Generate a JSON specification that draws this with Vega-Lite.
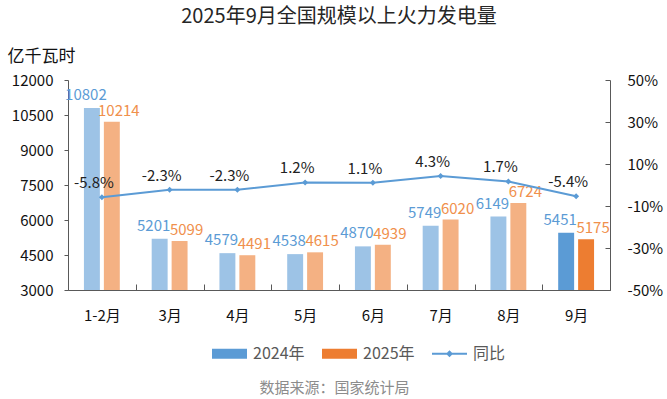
{
  "$schema": "https://vega.github.io/schema/vega-lite/v6.json",
  "autosize": {"type": "none"},
  "width": 542,
  "height": 210,
  "padding": {"left": 68, "top": 80, "right": 57, "bottom": 109},
  "background": "white",
  "config": {
    "font": "Noto Sans CJK SC",
    "view": {"stroke": null},
    "axis": {"grid": false},
    "axisY": {"labelOverlap": false},
    "locale": {
      "number": {"decimal": ".", "thousands": ",", "grouping": [3], "currency": ["", ""], "minus": "-"}
    }
  },
  "title": {
    "text": "2025年9月全国规模以上火力发电量",
    "fontSize": 20,
    "fontWeight": "normal",
    "color": "#262626",
    "anchor": "middle",
    "offset": 20
  },
  "datasets": {
    "bars": [
      {"month": "1-2月", "year": "2024年", "value": 10802},
      {"month": "1-2月", "year": "2025年", "value": 10214},
      {"month": "3月", "year": "2024年", "value": 5201},
      {"month": "3月", "year": "2025年", "value": 5099},
      {"month": "4月", "year": "2024年", "value": 4579},
      {"month": "4月", "year": "2025年", "value": 4491},
      {"month": "5月", "year": "2024年", "value": 4538},
      {"month": "5月", "year": "2025年", "value": 4615},
      {"month": "6月", "year": "2024年", "value": 4870},
      {"month": "6月", "year": "2025年", "value": 4939},
      {"month": "7月", "year": "2024年", "value": 5749},
      {"month": "7月", "year": "2025年", "value": 6020},
      {"month": "8月", "year": "2024年", "value": 6149},
      {"month": "8月", "year": "2025年", "value": 6724},
      {"month": "9月", "year": "2024年", "value": 5451},
      {"month": "9月", "year": "2025年", "value": 5175}
    ],
    "yoy": [
      {"month": "1-2月", "pct": -0.058},
      {"month": "3月", "pct": -0.023},
      {"month": "4月", "pct": -0.023},
      {"month": "5月", "pct": 0.012},
      {"month": "6月", "pct": 0.011},
      {"month": "7月", "pct": 0.043},
      {"month": "8月", "pct": 0.017},
      {"month": "9月", "pct": -0.054}
    ]
  },
  "layer": [
    {
      "data": {"name": "bars"},
      "encoding": {
        "x": {
          "field": "month",
          "type": "nominal",
          "sort": ["1-2月", "3月", "4月", "5月", "6月", "7月", "8月", "9月"],
          "scale": {"paddingInner": 0, "paddingOuter": 0},
          "axis": {
            "labelAngle": 0,
            "labelFontSize": 15,
            "labelColor": "#111111",
            "labelPadding": 24,
            "tickBand": "extent",
            "tickSize": -6,
            "tickColor": "#595959",
            "domainColor": "#595959",
            "title": "数据来源：国家统计局",
            "titleFontSize": 15,
            "titleFontWeight": "normal",
            "titleColor": "#8c8c8c",
            "titleX": 266,
            "titleY": 97,
            "titleAlign": "center",
            "titleBaseline": "middle"
          }
        },
        "xOffset": {
          "field": "year",
          "type": "nominal",
          "scale": {"paddingInner": 0.2, "paddingOuter": 0.8}
        },
        "y": {
          "field": "value",
          "type": "quantitative",
          "scale": {"domain": [3000, 12000], "zero": false, "nice": false},
          "axis": {
            "values": [3000, 4500, 6000, 7500, 9000, 10500, 12000],
            "format": "d",
            "labelOverlap": false,
            "labelFontSize": 15,
            "labelColor": "#111111",
            "labelPadding": 11,
            "tickSize": 4,
            "tickColor": "#595959",
            "domainColor": "#595959",
            "title": "亿千瓦时",
            "titleAngle": 0,
            "titleAlign": "left",
            "titleBaseline": "middle",
            "titleX": -61,
            "titleY": -24,
            "titleFontSize": 17,
            "titleFontWeight": "normal",
            "titleColor": "#111111"
          }
        }
      },
      "layer": [
        {
          "mark": {"type": "bar"},
          "encoding": {
            "y2": {"datum": 3000},
            "color": {
              "field": "year",
              "type": "nominal",
              "scale": {
                "domain": ["2024年", "2025年", "同比"],
                "range": ["#5b9bd5", "#ed7d31", "#5b9bd5"]
              },
              "legend": {
                "title": null,
                "orient": "none",
                "direction": "horizontal",
                "legendX": 144,
                "legendY": 256,
                "padding": 0,
                "labelFontSize": 16,
                "labelColor": "#595959",
                "labelOffset": 6,
                "columnPadding": 17,
                "symbolSize": 1225,
                "symbolStrokeWidth": 0,
                "symbolOpacity": 1,
                "encoding": {
                  "symbols": {
                    "shape": {
                      "condition": {
                        "test": "datum.value === '同比'",
                        "value": "M-1,-0.06H1V0.06H-1Z M0,-0.2L0.2,0L0,0.2L-0.2,0Z"
                      },
                      "value": "M-1,-0.286H1V0.286H-1Z"
                    }
                  }
                }
              }
            },
            "opacity": {
              "condition": {"test": "datum.month === '9月'", "value": 1},
              "value": 0.6
            }
          }
        },
        {
          "transform": [{"filter": "datum.year === '2024年'"}],
          "mark": {"type": "text", "dx": -6, "dy": -13, "baseline": "middle", "fontSize": 15, "color": "#5b9bd5"},
          "encoding": {
            "text": {"field": "value", "type": "quantitative", "format": "d"}
          }
        },
        {
          "transform": [{"filter": "datum.year === '2025年'"}],
          "mark": {"type": "text", "dx": 7, "dy": -11, "baseline": "middle", "fontSize": 15, "color": "#f0904c"},
          "encoding": {
            "text": {"field": "value", "type": "quantitative", "format": "d"}
          }
        }
      ]
    },
    {
      "data": {"name": "yoy"},
      "encoding": {
        "x": {"field": "month", "type": "nominal", "sort": ["1-2月", "3月", "4月", "5月", "6月", "7月", "8月", "9月"]},
        "y": {
          "field": "pct",
          "type": "quantitative",
          "scale": {"domain": [-0.5, 0.5], "zero": false, "nice": false},
          "axis": {
            "orient": "right",
            "values": [-0.5, -0.3, -0.1, 0.1, 0.3, 0.5],
            "format": ".0%",
            "labelOverlap": false,
            "labelAlign": "left",
            "labelFontSize": 15,
            "labelColor": "#111111",
            "labelPadding": 22,
            "tickSize": -5,
            "tickColor": "#595959",
            "domainColor": "#595959",
            "title": null
          }
        }
      },
      "layer": [
        {
          "mark": {"type": "line", "strokeWidth": 2},
          "encoding": {
            "color": {"datum": "同比"}
          }
        },
        {
          "mark": {"type": "point", "shape": "diamond", "filled": true, "size": 36, "color": "#5b9bd5", "opacity": 1}
        },
        {
          "mark": {"type": "text", "dx": -8, "dy": -14, "baseline": "middle", "fontSize": 15, "color": "#222222"},
          "encoding": {
            "text": {"field": "pct", "type": "quantitative", "format": ".1%"}
          }
        }
      ]
    }
  ],
  "resolve": {"scale": {"y": "independent"}}
}
